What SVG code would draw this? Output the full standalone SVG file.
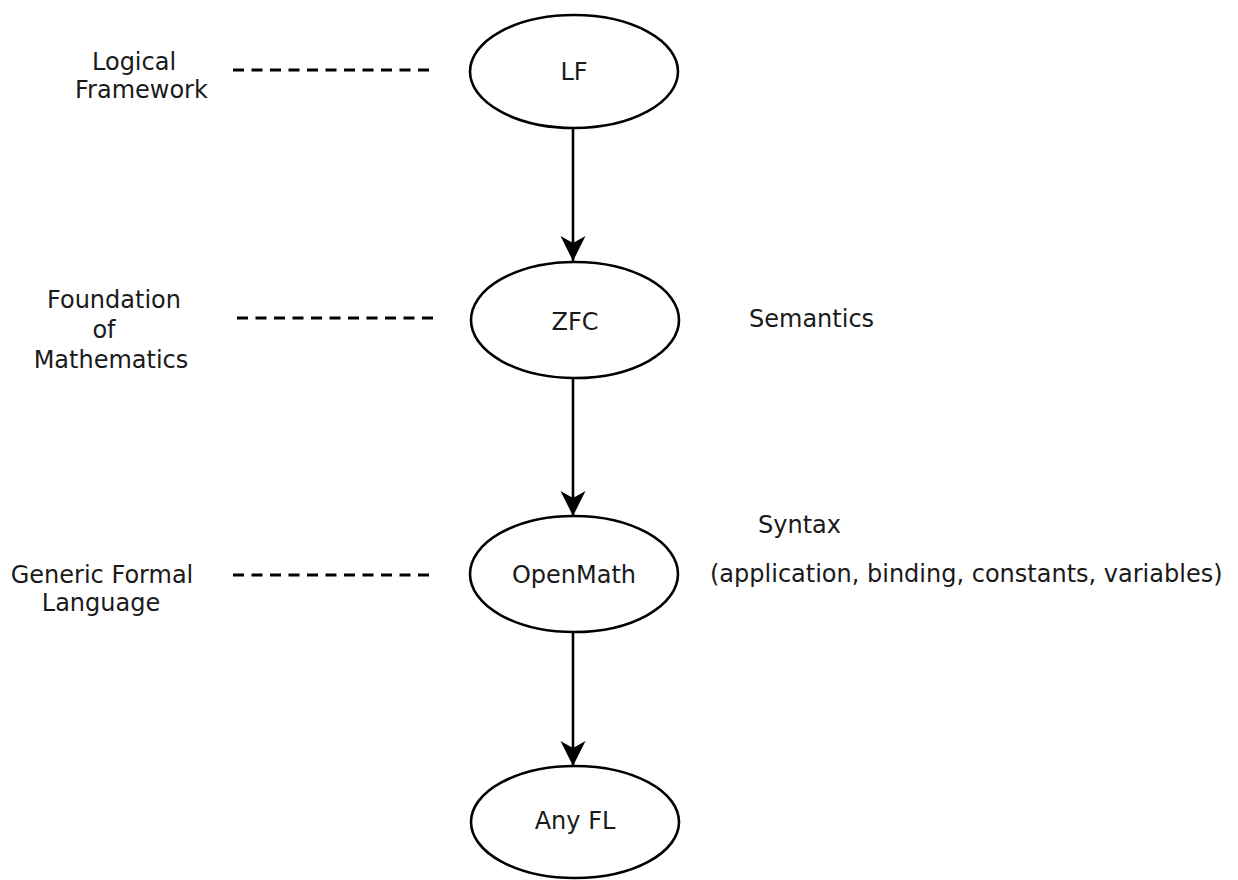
<svg xmlns="http://www.w3.org/2000/svg" width="1238" height="880" viewBox="0 0 1238 880">
  <defs>
    <style>
      text { font-family: "DejaVu Sans", "Liberation Sans", sans-serif; font-size: 24px; fill: #1a1a1a; }
      .node ellipse { fill: #ffffff; stroke: #000000; stroke-width: 2.6; }
      .mid { text-anchor: middle; }
      .edge { stroke: #000000; stroke-width: 2.6; fill: none; }
      .dash { stroke: #000000; stroke-width: 3; stroke-dasharray: 11 7.5; fill: none; }
    </style>
    <marker id="arrow" markerUnits="userSpaceOnUse" markerWidth="28" markerHeight="30" refX="25" refY="12.5" orient="auto">
      <path d="M0,0 L25,12.5 L0,25 L7,12.5 Z" fill="#000000"/>
    </marker>
  </defs>
  <rect width="1238" height="880" fill="#ffffff"/>

  <g id="connectors">
    <line class="edge" x1="573" y1="128" x2="573" y2="261" marker-end="url(#arrow)"/>
    <line class="edge" x1="573" y1="378" x2="573" y2="516" marker-end="url(#arrow)"/>
    <line class="edge" x1="573" y1="632" x2="573" y2="766" marker-end="url(#arrow)"/>
    <line class="dash" x1="233" y1="70" x2="429" y2="70"/>
    <line class="dash" x1="237" y1="318" x2="433" y2="318"/>
    <line class="dash" x1="233" y1="575" x2="429" y2="575"/>
  </g>

  <g id="node-lf" class="node">
    <ellipse cx="574" cy="71.5" rx="104" ry="56.5"/>
    <text class="mid" x="574" y="80">LF</text>
  </g>
  <g id="node-zfc" class="node">
    <ellipse cx="575" cy="320" rx="104" ry="58"/>
    <text class="mid" x="575" y="330">ZFC</text>
  </g>
  <g id="node-openmath" class="node">
    <ellipse cx="574" cy="574" rx="104" ry="58"/>
    <text class="mid" x="574" y="583">OpenMath</text>
  </g>
  <g id="node-anyfl" class="node">
    <ellipse cx="575" cy="822" rx="104" ry="56"/>
    <text class="mid" x="575" y="829">Any FL</text>
  </g>

  <g id="label-logical-framework">
    <text x="92" y="70">Logical</text>
    <text x="75" y="98">Framework</text>
  </g>
  <g id="label-foundation">
    <text class="mid" x="114" y="308">Foundation</text>
    <text class="mid" x="104" y="338">of</text>
    <text class="mid" x="111" y="368">Mathematics</text>
  </g>
  <g id="label-generic">
    <text class="mid" x="102" y="583">Generic Formal</text>
    <text class="mid" x="101" y="611">Language</text>
  </g>
  <g id="label-semantics">
    <text x="749" y="327">Semantics</text>
  </g>
  <g id="label-syntax">
    <text x="758" y="533">Syntax</text>
    <text x="710" y="582">(application, binding, constants, variables)</text>
  </g>
</svg>
